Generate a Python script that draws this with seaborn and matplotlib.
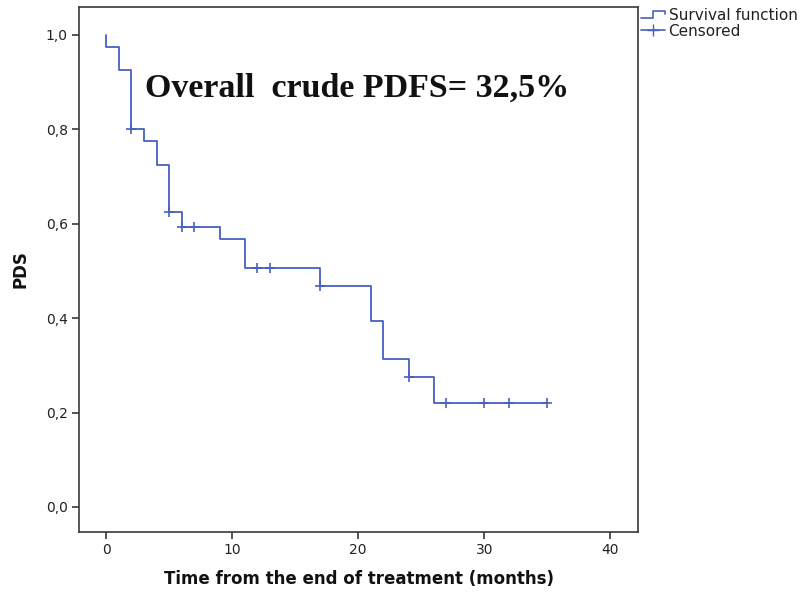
import matplotlib
matplotlib.use("Agg")
import matplotlib.pyplot as plt
from matplotlib.lines import Line2D
from matplotlib.legend_handler import HandlerBase
import pandas as pd
import seaborn as sns

# Kaplan-Meier step function: time of each step and survival after it
step_times = [0, 0, 1, 2, 3, 4, 5, 6, 9, 11, 17, 21, 22, 24, 26, 35]
step_surv = [1.0, 0.975, 0.925, 0.800, 0.775, 0.725, 0.625, 0.594,
             0.567, 0.507, 0.469, 0.393, 0.314, 0.276, 0.221, 0.221]

# Censored observations
cens_times = [2, 5, 6, 7, 12, 13, 17, 24, 27, 30, 32, 35]
cens_surv = [0.800, 0.625, 0.594, 0.594, 0.507, 0.507, 0.469, 0.276,
             0.221, 0.221, 0.221, 0.221]

x_ticks = [0, 10, 20, 30, 40]
y_ticks = [0.0, 0.2, 0.4, 0.6, 0.8, 1.0]
y_tick_labels = ["0,0", "0,2", "0,4", "0,6", "0,8", "1,0"]

annotation = "Overall  crude PDFS= 32,5%"
x_label = "Time from the end of treatment (months)"
y_label = "PDS"

line_color = "#4760bf"

sns.set_theme(style="white")
plt.rcParams["font.family"] = ["DejaVu Sans"]

fig = plt.figure(figsize=(8.05, 5.92), dpi=100)
ax = fig.add_axes([79 / 805, 1 - 532 / 592, (638 - 79) / 805, (532 - 7) / 592])

steps = pd.DataFrame({"time": step_times, "surv": step_surv})
cens = pd.DataFrame({"time": cens_times, "surv": cens_surv})

sns.lineplot(data=steps, x="time", y="surv", ax=ax, estimator=None, sort=False,
             drawstyle="steps-post", color=line_color, linewidth=1.3)
sns.scatterplot(data=cens, x="time", y="surv", ax=ax, marker="+", s=60,
                color=line_color, linewidth=1.2, zorder=3)

ax.set_xlim(-2.15, 42.2)
ax.set_ylim(-0.053, 1.059)
ax.set_xticks(x_ticks)
ax.set_xticklabels([str(t) for t in x_ticks])
ax.set_yticks(y_ticks)
ax.set_yticklabels(y_tick_labels)

for s in ax.spines.values():
    s.set_color("#3a3a3a")
    s.set_linewidth(1.2)
ax.tick_params(axis="both", which="major", direction="out", length=5, width=1.2,
               color="#3a3a3a", labelsize=10, labelcolor="#222222", pad=3,
               bottom=True, left=True)

ax.set_xlabel(x_label, fontsize=12, fontweight="bold", color="#111111", labelpad=9)
ax.set_ylabel(y_label, fontsize=12, fontweight="bold", color="#111111", labelpad=12)

ax.text(3.1, 0.868, annotation, fontsize=24.5, fontweight="bold",
        family=["Liberation Serif"], color="#111111", va="baseline", ha="left")


class StepHandler(HandlerBase):
    def create_artists(self, legend, orig_handle, xdescent, ydescent,
                       width, height, fontsize, trans):
        xs = [-xdescent, -xdescent + width * 0.5, -xdescent + width * 0.5,
              -xdescent + width, -xdescent + width]
        ys = [height * 0.15, height * 0.15, height * 0.85, height * 0.85, height * 0.55]
        ln = Line2D(xs, ys, color=orig_handle.get_color(), linewidth=1.2,
                    transform=trans)
        return [ln]


h_surv = Line2D([], [], color=line_color)
h_cens = Line2D([], [], color=line_color, marker="+", markersize=9, linewidth=1.2)
fig.legend([h_surv, h_cens], ["Survival function", "Censored"],
           handler_map={h_surv: StepHandler()},
           loc="upper left", bbox_to_anchor=(641 / 805, 1 - 8 / 592),
           frameon=False, fontsize=11, handlelength=1.6, handletextpad=0.2,
           labelspacing=0.05, borderpad=0, borderaxespad=0, labelcolor="#222222")

fig.savefig("out.png", dpi=100)
